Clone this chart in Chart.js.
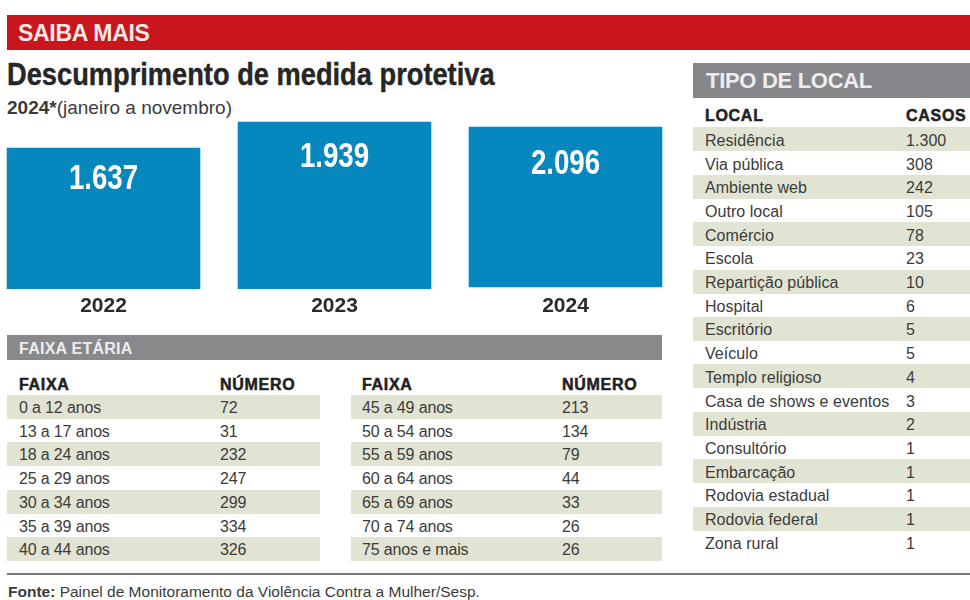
<!DOCTYPE html>
<html lang="pt-BR">
<head>
<meta charset="utf-8">
<title>Descumprimento de medida protetiva</title>
<script src="https://cdn.jsdelivr.net/npm/chart.js@4/dist/chart.umd.min.js"></script>
<style>
  html, body { margin: 0; padding: 0; background: #fff; }
  body { position: relative; width: 970px; height: 600px; overflow: hidden; font-family: "Liberation Sans", Arial, sans-serif; color: #3b3b3b; }
  .abs { position: absolute; white-space: nowrap; }
  .band { position: absolute; }
  .cell { position: absolute; white-space: nowrap; font-size: 16px; line-height: 24px; }
  .head { position: absolute; white-space: nowrap; font-size: 16px; line-height: 20px; font-weight: bold; color: #222; letter-spacing: 0.7px; -webkit-text-stroke: 0.5px #222; }
  #chart { position: absolute; left: -12px; top: 110px; }
</style>
</head>
<body>

<div class="band" style="left:7px;top:14.5px;width:963px;height:35.5px;background:#c8161c"></div>
<div class="abs" style="left:18px;top:19px;font-size:23px;line-height:28px;font-weight:bold;color:#f6e9e6;letter-spacing:-0.3px">SAIBA MAIS</div>
<div class="abs" style="left:7px;top:56px;font-size:31px;line-height:38px;font-weight:bold;color:#262626;transform:scaleX(0.879);transform-origin:0 0;-webkit-text-stroke:0.4px #262626">Descumprimento de medida protetiva</div>
<div class="abs" style="left:7px;top:97px;font-size:19px;line-height:21px;color:#3b3b3b"><b>2024*</b>(janeiro a novembro)</div>

<canvas id="chart" width="693" height="210"></canvas>

<div class="band" style="left:7px;top:335px;width:655px;height:24.5px;background:#88898b"></div>
<div class="abs" style="left:19px;top:339px;font-size:16px;line-height:20px;font-weight:bold;color:#ededed;letter-spacing:0.25px">FAIXA ETÁRIA</div>

<div class="band" style="left:693px;top:62.5px;width:277px;height:35.5px;background:#85878a"></div>
<div class="abs" style="left:706px;top:67px;font-size:22px;line-height:28px;font-weight:bold;color:#ededed;letter-spacing:-0.3px">TIPO DE LOCAL</div>

<div id="tables"></div>

<div class="band" style="left:7px;top:572.5px;width:963px;height:2px;background:#77787a"></div>
<div class="abs" style="left:8px;top:582px;font-size:15.5px;line-height:19px;color:#3b3b3b"><b>Fonte:</b> Painel de Monitoramento da Violência Contra a Mulher/Sesp.</div>

<script>
var barYears = ['2022', '2023', '2024'];
var barValues = [1637, 1939, 2096];
// heights as printed: the 2024 bar in the source is shorter than its number and sits a little off the baseline
var barBases = [0, 0, 20];
var barTops = [1637, 1939, 1883];

var faixaLeft = ['0 a 12 anos', '13 a 17 anos', '18 a 24 anos', '25 a 29 anos', '30 a 34 anos', '35 a 39 anos', '40 a 44 anos'];
var numeroLeft = [72, 31, 232, 247, 299, 334, 326];
var faixaRight = ['45 a 49 anos', '50 a 54 anos', '55 a 59 anos', '60 a 64 anos', '65 a 69 anos', '70 a 74 anos', '75 anos e mais'];
var numeroRight = [213, 134, 79, 44, 33, 26, 26];

var locais = ['Residência', 'Via pública', 'Ambiente web', 'Outro local', 'Comércio', 'Escola', 'Repartição pública', 'Hospital', 'Escritório', 'Veículo', 'Templo religioso', 'Casa de shows e eventos', 'Indústria', 'Consultório', 'Embarcação', 'Rodovia estadual', 'Rodovia federal', 'Zona rural'];
var casos = [1300, 308, 242, 105, 78, 23, 10, 6, 5, 5, 4, 3, 2, 1, 1, 1, 1, 1];

function fmt(n) {
  return n >= 1000 ? Math.floor(n / 1000) + '.' + String(n % 1000).padStart(3, '0') : String(n);
}

function addEl(cls, text, left, top, extra) {
  var el = document.createElement('div');
  el.className = cls;
  el.textContent = text;
  el.style.left = left + 'px';
  el.style.top = top + 'px';
  if (extra) el.style.cssText += extra;
  document.getElementById('tables').appendChild(el);
}

// draws one striped table: names at textX, numbers at numX
function drawTable(names, nums, heads, opt) {
  addEl('head', heads[0], opt.textX, opt.headY);
  addEl('head', heads[1], opt.numX, opt.headY);
  names.forEach(function (name, i) {
    var y = opt.top + i * 23.7;
    if (i % 2 === 0) {
      addEl('band', '', opt.left, y, 'width:' + opt.width + 'px;height:24px;background:#e2e4d3');
    }
    addEl('cell', name, opt.textX, y + opt.textDrop, 'letter-spacing:' + opt.spacing + 'px');
    addEl('cell', fmt(nums[i]), opt.numX, y + opt.textDrop, 'letter-spacing:' + opt.spacing + 'px');
  });
}

drawTable(faixaLeft, numeroLeft, ['FAIXA', 'NÚMERO'], { left: 7, width: 313, textX: 19, numX: 220, top: 395, headY: 375, textDrop: 1, spacing: -0.15 });
drawTable(faixaRight, numeroRight, ['FAIXA', 'NÚMERO'], { left: 351, width: 311, textX: 362, numX: 562, top: 395, headY: 375, textDrop: 1, spacing: -0.15 });
drawTable(locais, casos, ['LOCAL', 'CASOS'], { left: 693, width: 277, textX: 705, numX: 906, top: 127.3, headY: 106, textDrop: 1.5, spacing: 0.05 });

var labelDrop = [31, 36, 38];
var labelSquash = 0.79;
var barLabels = {
  id: 'barLabels',
  afterDatasetsDraw: function (chart) {
    var ctx = chart.ctx;
    var bars = chart.getDatasetMeta(0).data;
    bars.forEach(function (bar, i) {
      ctx.save();
      ctx.translate(bar.x, bar.y + labelDrop[i]);
      ctx.scale(labelSquash, 1);
      ctx.font = 'bold 35px "Liberation Sans", sans-serif';
      ctx.fillStyle = '#ffffff';
      ctx.textAlign = 'center';
      ctx.textBaseline = 'middle';
      ctx.fillText(fmt(barValues[i]), 0, 0);
      ctx.restore();
    });
  }
};

new Chart(document.getElementById('chart').getContext('2d'), {
  type: 'bar',
  data: {
    labels: barYears,
    datasets: [{
      data: barBases.map(function (b, i) { return [b, barTops[i]]; }),
      backgroundColor: '#0688bf',
      barPercentage: 0.838,
      categoryPercentage: 1
    }]
  },
  options: {
    responsive: false,
    animation: false,
    layout: { padding: 0 },
    plugins: { legend: { display: false }, title: { display: false }, tooltip: { enabled: false } },
    scales: {
      x: {
        grid: { display: false, drawTicks: false },
        border: { display: false },
        ticks: { color: '#2b2b2b', padding: 5, font: { family: '"Liberation Sans", sans-serif', size: 21, weight: 'bold' } },
        afterFit: function (scale) { scale.height = 31; }
      },
      y: { display: false, min: 0, max: 2076 }
    }
  },
  plugins: [barLabels]
});
</script>
</body>
</html>
